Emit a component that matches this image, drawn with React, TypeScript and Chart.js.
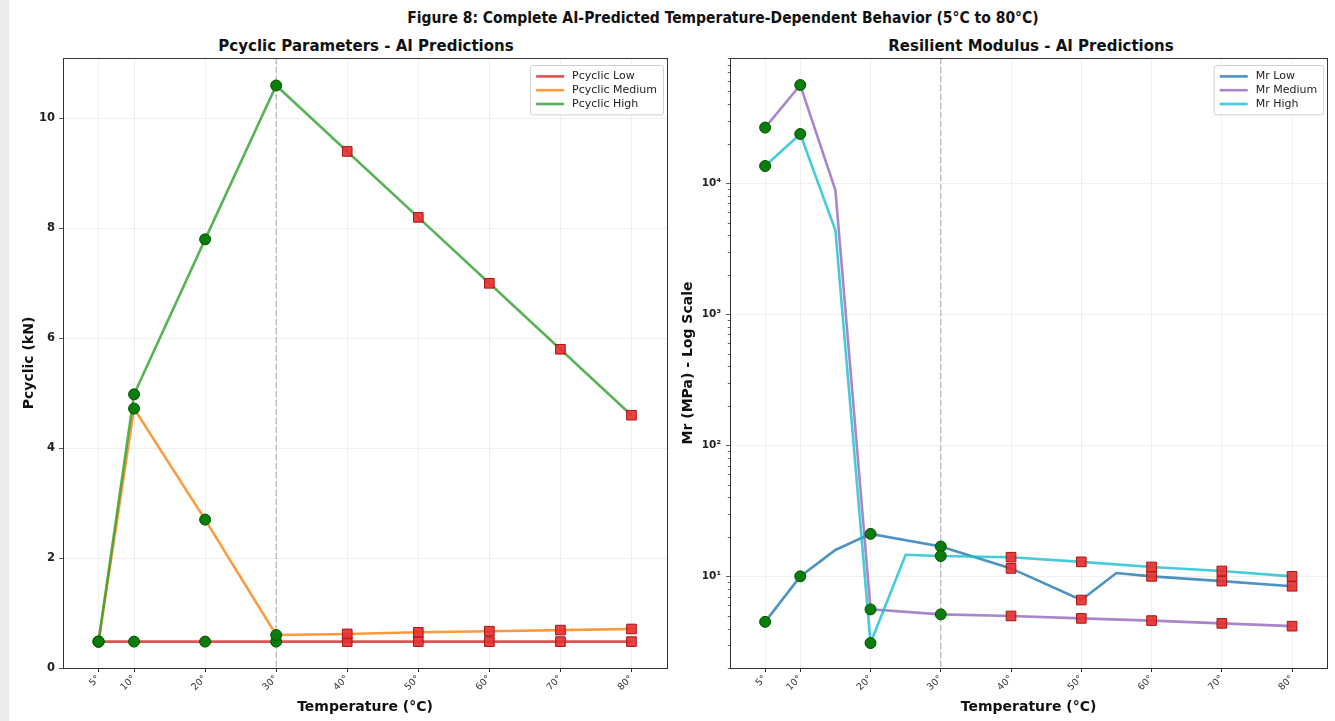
import React, { useEffect, useRef } from 'react';
import { Chart, registerables } from 'chart.js';

Chart.register(...registerables);

const FONT = '"DejaVu Sans", "Liberation Sans", sans-serif';

// ---------- Data ----------
const xTicks = [5, 10, 20, 30, 40, 50, 60, 70, 80];
const measuredTemps = [5, 10, 20, 30];
const predictedTemps = [40, 50, 60, 70, 80];
const boundaryTemp = 30;

// Pcyclic (kN)
const pTemps = [5, 10, 20, 30, 40, 50, 60, 70, 80];
const pcyclicLow = [0.48, 0.48, 0.48, 0.48, 0.48, 0.48, 0.48, 0.48, 0.48];
const pcyclicMedium = [0.48, 4.72, 2.7, 0.6, 0.62, 0.65, 0.67, 0.69, 0.71];
const pcyclicHigh = [0.48, 4.98, 7.8, 10.6, 9.4, 8.2, 7.0, 5.8, 4.6];

// Resilient modulus Mr (MPa)
const mrLowTemps = [5, 10, 15, 20, 30, 40, 50, 55, 60, 70, 80];
const mrLow = [4.5, 10, 15.9, 21.1, 16.9, 11.5, 6.6, 10.6, 10, 9.2, 8.4];
const mrMediumTemps = [5, 10, 15, 20, 30, 40, 50, 60, 70, 80];
const mrMedium = [26500, 56000, 8840, 5.6, 5.13, 4.99, 4.78, 4.6, 4.38, 4.17];
const mrHighTemps = [5, 10, 15, 20, 25, 30, 40, 50, 60, 70, 80];
const mrHigh = [13500, 23700, 4370, 3.1, 14.6, 14.3, 14.0, 12.9, 11.8, 11.0, 10.0];

const SUP: Record<number, string> = { 0: '⁰', 1: '¹', 2: '²', 3: '³', 4: '⁴', 5: '⁵' };

// ---------- Helpers ----------
type Pt = { x: number; y: number };
const toPoints = (temps: number[], vals: number[]): Pt[] => temps.map((t, i) => ({ x: t, y: vals[i] }));
const pick = (pts: Pt[], temps: number[]) => pts.filter((p) => temps.includes(p.x));
const isPow10 = (v: number) => {
  const l = Math.log10(v);
  return Math.abs(l - Math.round(l)) < 1e-9;
};

const GRID = '#ebebeb';
const AXIS = '#333333';

function lineDs(label: string, data: Pt[], color: string, order: number) {
  return {
    type: 'line' as const,
    label,
    data,
    borderColor: color,
    backgroundColor: color,
    borderWidth: 2.6,
    pointRadius: 0,
    tension: 0,
    fill: false,
    order,
  };
}

function markerDs(label: string, data: Pt[], kind: 'measured' | 'predicted') {
  return kind === 'measured'
    ? {
        type: 'scatter' as const,
        label,
        data,
        pointStyle: 'circle',
        pointRadius: 5.5,
        backgroundColor: '#0a7d0a',
        borderColor: '#035203',
        borderWidth: 1,
        showLine: false,
        order: 0,
      }
    : {
        type: 'scatter' as const,
        label,
        data,
        pointStyle: 'rect',
        pointRadius: 6.8,
        backgroundColor: 'rgba(232,48,48,0.92)',
        borderColor: '#a31515',
        borderWidth: 1,
        showLine: false,
        order: 0,
      };
}

function overlayPlugin(id: string, legendItems: { label: string; color: string }[], minorTicksOnY: boolean) {
  return {
    id,
    beforeDatasetsDraw(chart: any) {
      const { ctx, chartArea } = chart;
      const x = chart.scales.x.getPixelForValue(boundaryTemp);
      ctx.save();
      ctx.strokeStyle = 'rgba(128,128,128,0.55)';
      ctx.lineWidth = 1.2;
      ctx.setLineDash([6, 3]);
      ctx.beginPath();
      ctx.moveTo(x, chartArea.top);
      ctx.lineTo(x, chartArea.bottom);
      ctx.stroke();
      ctx.restore();
    },
    afterDraw(chart: any) {
      const { ctx, chartArea } = chart;
      const { left, right, top, bottom } = chartArea;
      ctx.save();
      if (minorTicksOnY) {
        const ys = chart.scales.y;
        ctx.strokeStyle = AXIS;
        ctx.lineWidth = 0.8;
        ys.ticks.forEach((t: any) => {
          if (!isPow10(t.value)) {
            const py = Math.round(ys.getPixelForValue(t.value)) + 0.5;
            ctx.beginPath();
            ctx.moveTo(left - 2.2, py);
            ctx.lineTo(left, py);
            ctx.stroke();
          }
        });
      }
      ctx.strokeStyle = AXIS;
      ctx.lineWidth = 1;
      ctx.strokeRect(Math.round(left) + 0.5, Math.round(top) + 0.5, Math.round(right - left), Math.round(bottom - top));

      ctx.font = `11px ${FONT}`;
      const textW = Math.max(...legendItems.map((it) => ctx.measureText(it.label).width));
      const lineLen = 28;
      const padX = 6;
      const gap = 8;
      const rowH = 13.8;
      const boxW = padX + lineLen + gap + textW + padX;
      const boxH = rowH * legendItems.length + 8;
      const bx = right - 4 - boxW;
      const by = top + 7;
      ctx.fillStyle = 'rgba(255,255,255,0.85)';
      ctx.strokeStyle = '#d0d0d0';
      ctx.lineWidth = 1;
      ctx.beginPath();
      (ctx as any).roundRect ? (ctx as any).roundRect(bx + 0.5, by + 0.5, boxW, boxH, 2) : ctx.rect(bx + 0.5, by + 0.5, boxW, boxH);
      ctx.fill();
      ctx.stroke();
      legendItems.forEach((it, i) => {
        const cy = by + 4 + rowH * i + rowH / 2 + 0.5;
        ctx.strokeStyle = it.color;
        ctx.lineWidth = 2.6;
        ctx.beginPath();
        ctx.moveTo(bx + padX, cy);
        ctx.lineTo(bx + padX + lineLen, cy);
        ctx.stroke();
        ctx.fillStyle = '#222';
        ctx.textBaseline = 'middle';
        ctx.textAlign = 'left';
        ctx.fillText(it.label, bx + padX + lineLen + gap, cy);
      });
      ctx.restore();
    },
  };
}

function xScale() {
  return {
    type: 'linear' as const,
    min: 0,
    max: 85,
    afterBuildTicks: (s: any) => {
      s.ticks = xTicks.map((v) => ({ value: v }));
    },
    afterFit: (s: any) => {
      s.height = 53;
    },
    ticks: {
      autoSkip: false,
      minRotation: 45,
      maxRotation: 45,
      padding: 1,
      color: '#333',
      font: { family: FONT, size: 9.5 },
      callback: (v: any) => `${v}°`,
    },
    grid: { color: GRID, lineWidth: 0.8, tickLength: 4, tickColor: AXIS, tickWidth: 1 },
    border: { display: false },
    title: {
      display: true,
      text: 'Temperature (°C)',
      color: '#111',
      font: { family: FONT, size: 14, weight: 'bold' as const },
      padding: { top: 0, bottom: 5 },
    },
  };
}

const COLORS = {
  pLow: 'rgba(214,39,40,0.8)',
  pMed: 'rgba(255,127,14,0.8)',
  pHigh: 'rgba(44,160,44,0.8)',
  mLow: 'rgba(31,119,180,0.8)',
  mMed: 'rgba(148,103,189,0.8)',
  mHigh: 'rgba(23,190,207,0.8)',
};

export default function App() {
  const leftRef = useRef<HTMLCanvasElement | null>(null);
  const rightRef = useRef<HTMLCanvasElement | null>(null);

  useEffect(() => {
    if (!leftRef.current || !rightRef.current) return;
    Chart.defaults.font.family = FONT;

    const pSeries = [pcyclicLow, pcyclicMedium, pcyclicHigh].map((s) => toPoints(pTemps, s));
    const left = new Chart(leftRef.current, {
      type: 'line',
      data: {
        datasets: [
          lineDs('Pcyclic Low', pSeries[0], COLORS.pLow, 3),
          lineDs('Pcyclic Medium', pSeries[1], COLORS.pMed, 2),
          lineDs('Pcyclic High', pSeries[2], COLORS.pHigh, 1),
          markerDs('Measured', pSeries.flatMap((s) => pick(s, measuredTemps)), 'measured'),
          markerDs('Predicted', pSeries.flatMap((s) => pick(s, predictedTemps)), 'predicted'),
        ] as any,
      },
      options: {
        responsive: false,
        animation: false,
        events: [],
        layout: { padding: { top: 58, right: 13, bottom: 0, left: 0 } },
        plugins: { legend: { display: false }, tooltip: { enabled: false } },
        scales: {
          x: xScale() as any,
          y: {
            type: 'linear',
            min: 0,
            max: 11.1,
            afterFit: (s: any) => {
              s.width = 63;
            },
            ticks: {
              stepSize: 2,
              includeBounds: false,
              padding: 4,
              color: '#222',
              font: { family: FONT, size: 11.5, weight: 'bold' },
            },
            grid: { color: GRID, lineWidth: 0.8, tickLength: 4, tickColor: AXIS },
            border: { display: false },
            title: {
              display: true,
              text: 'Pcyclic (kN)',
              color: '#111',
              font: { family: FONT, size: 14, weight: 'bold' },
              padding: { top: 21, bottom: 0 },
            },
          } as any,
        },
      },
      plugins: [
        overlayPlugin(
          'overlayLeft',
          [
            { label: 'Pcyclic Low', color: COLORS.pLow },
            { label: 'Pcyclic Medium', color: COLORS.pMed },
            { label: 'Pcyclic High', color: COLORS.pHigh },
          ],
          false
        ) as any,
      ],
    });

    const mSeries = [
      toPoints(mrLowTemps, mrLow),
      toPoints(mrMediumTemps, mrMedium),
      toPoints(mrHighTemps, mrHigh),
    ];
    const right = new Chart(rightRef.current, {
      type: 'line',
      data: {
        datasets: [
          lineDs('Mr Low', mSeries[0], COLORS.mLow, 3),
          lineDs('Mr Medium', mSeries[1], COLORS.mMed, 2),
          lineDs('Mr High', mSeries[2], COLORS.mHigh, 1),
          markerDs('Measured', mSeries.flatMap((s) => pick(s, measuredTemps)), 'measured'),
          markerDs('Predicted', mSeries.flatMap((s) => pick(s, predictedTemps)), 'predicted'),
        ] as any,
      },
      options: {
        responsive: false,
        animation: false,
        events: [],
        layout: { padding: { top: 58, right: 7, bottom: 0, left: 0 } },
        plugins: { legend: { display: false }, tooltip: { enabled: false } },
        scales: {
          x: xScale() as any,
          y: {
            type: 'logarithmic',
            min: 2,
            max: 90000,
            afterBuildTicks: (s: any) => {
              const t: any[] = [];
              for (let e = 0; e <= 4; e++) {
                for (let d = 1; d <= 9; d++) {
                  const v = d * Math.pow(10, e);
                  if (v >= 2 && v <= 90000) t.push({ value: v, major: d === 1 });
                }
              }
              s.ticks = t;
            },
            afterFit: (s: any) => {
              s.width = 50;
            },
            ticks: {
              autoSkip: false,
              padding: 5,
              color: '#222',
              font: { family: FONT, size: 10.5, weight: 'bold' },
              callback: (v: any) => {
                const n = Number(v);
                return isPow10(n) ? '10' + SUP[Math.round(Math.log10(n))] : '';
              },
            },
            grid: {
              color: (c: any) => (c.tick && isPow10(c.tick.value) ? GRID : 'rgba(0,0,0,0)'),
              tickColor: (c: any) => (c.tick && isPow10(c.tick.value) ? AXIS : 'rgba(0,0,0,0)'),
              lineWidth: 0.8,
              tickLength: 4,
            },
            border: { display: false },
            title: {
              display: true,
              text: 'Mr (MPa) - Log Scale',
              color: '#111',
              font: { family: FONT, size: 14, weight: 'bold' },
              padding: { top: 0, bottom: 0 },
            },
          } as any,
        },
      },
      plugins: [
        overlayPlugin(
          'overlayRight',
          [
            { label: 'Mr Low', color: COLORS.mLow },
            { label: 'Mr Medium', color: COLORS.mMed },
            { label: 'Mr High', color: COLORS.mHigh },
          ],
          true
        ) as any,
      ],
    });

    return () => {
      left.destroy();
      right.destroy();
    };
  }, []);

  const titleStyle: React.CSSProperties = {
    position: 'absolute',
    width: 600,
    textAlign: 'center',
    fontFamily: FONT,
    fontWeight: 'bold',
    fontSize: 15,
    lineHeight: '18px',
    color: '#111',
    whiteSpace: 'nowrap',
  };

  return (
    <div
      style={{
        position: 'absolute',
        left: 0,
        top: 0,
        width: 1335,
        height: 721,
        background: '#ffffff',
        overflow: 'hidden',
      }}
    >
      <div style={{ position: 'absolute', left: 0, top: 0, width: 9, height: 721, background: '#ebebeb' }} />
      <div
        style={{
          ...titleStyle,
          left: 723 - 400,
          width: 800,
          top: 9,
          fontFamily: '"DejaVu Sans Condensed", "Liberation Sans Narrow", "DejaVu Sans", sans-serif',
          fontSize: 15.5,
        }}
      >
        Figure 8: Complete AI-Predicted Temperature-Dependent Behavior (5°C to 80°C)
      </div>
      <div style={{ ...titleStyle, left: 366 - 300, top: 37 }}>Pcyclic Parameters - AI Predictions</div>
      <div style={{ ...titleStyle, left: 1031 - 300, top: 37 }}>Resilient Modulus - AI Predictions</div>
      <canvas
        ref={leftRef}
        width={680}
        height={721}
        style={{ position: 'absolute', left: 0, top: 0, width: 680, height: 721 }}
      />
      <canvas
        ref={rightRef}
        width={655}
        height={721}
        style={{ position: 'absolute', left: 680, top: 0, width: 655, height: 721 }}
      />
    </div>
  );
}
